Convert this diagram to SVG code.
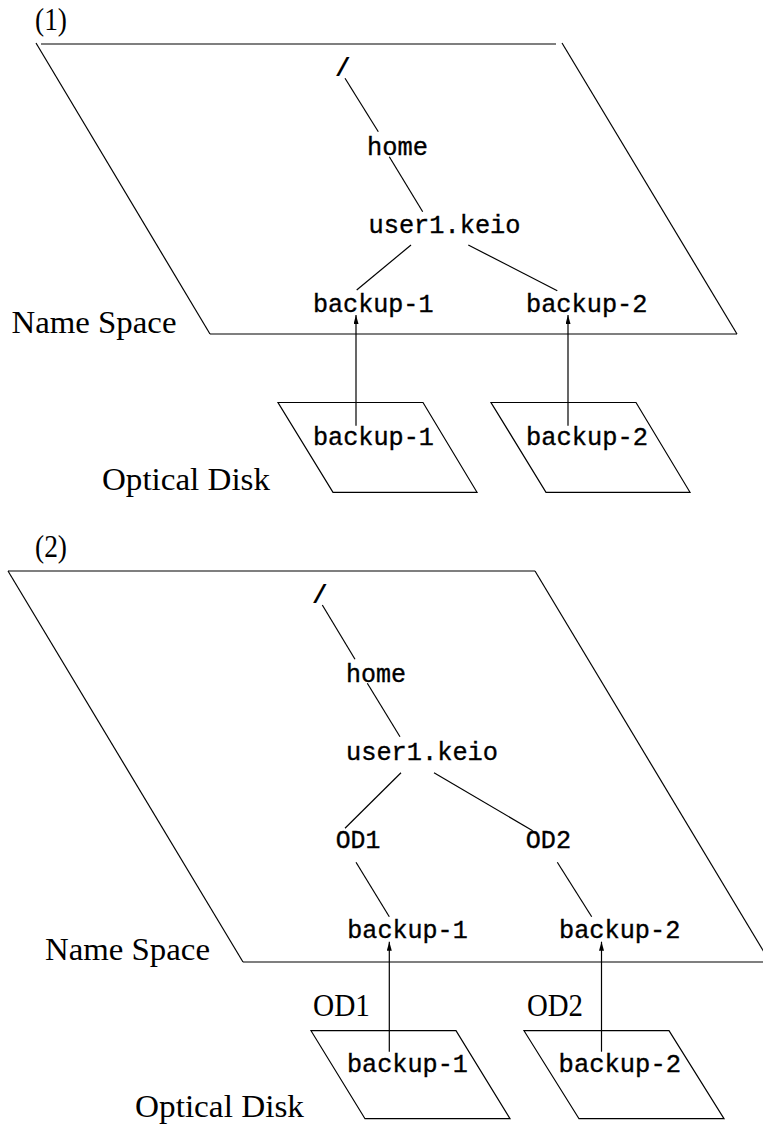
<svg xmlns="http://www.w3.org/2000/svg" width="763" height="1126" viewBox="0 0 763 1126">
<style>
.ln{stroke:#000;stroke-width:1.2;fill:none}
.bx{stroke:#000;stroke-width:1.2;fill:none;stroke-linejoin:miter}
.tt{font-family:"Liberation Mono","DejaVu Sans Mono",monospace;font-size:25.5px;fill:#000;stroke:#000;stroke-width:0.35}
.sl{font-family:"Liberation Mono","DejaVu Sans Mono",monospace;font-size:26px;font-weight:bold;fill:#000}
.rm{font-family:"Liberation Serif","DejaVu Serif",serif;font-size:32px;fill:#000}
</style>
<defs>
<marker id="ah" markerUnits="userSpaceOnUse" markerWidth="10" markerHeight="6" refX="9" refY="2.5" orient="auto">
<path d="M0,0 L9,2.5 L0,5 z" fill="#000"/>
</marker>
</defs>
<rect width="763" height="1126" fill="#fff"/>

<!-- Panel 1 -->
<g id="label1"><text class="rm" x="35" y="29.5" textLength="32" lengthAdjust="spacingAndGlyphs">(1)</text></g>
<g id="namespace1">
<line class="ln" x1="41" y1="44" x2="556" y2="44"/>
<line class="ln" x1="36" y1="43" x2="210" y2="334"/>
<line class="ln" x1="210" y1="334" x2="737" y2="334"/>
<line class="ln" x1="562" y1="43" x2="737" y2="334"/>
<text class="rm" x="11.5" y="333.3" textLength="165" lengthAdjust="spacingAndGlyphs">Name Space</text>
</g>
<g id="p1-root"><text class="sl" x="335" y="76">/</text></g>
<g id="p1-home"><text class="tt" x="367" y="155" textLength="61" lengthAdjust="spacingAndGlyphs">home</text></g>
<g id="p1-user"><text class="tt" x="368.5" y="233" textLength="152" lengthAdjust="spacingAndGlyphs">user1.keio</text></g>
<g id="p1-b1"><text class="tt" x="313" y="311.5" textLength="120.5" lengthAdjust="spacingAndGlyphs">backup-1</text></g>
<g id="p1-b2"><text class="tt" x="526" y="311.5" textLength="121.5" lengthAdjust="spacingAndGlyphs">backup-2</text></g>
<g id="p1-od1">
<polygon class="bx" points="278,402.5 423,402.5 477,492.3 333,492.3"/>
<text class="tt" x="313" y="444.5" textLength="121" lengthAdjust="spacingAndGlyphs">backup-1</text>
</g>
<g id="p1-od2">
<polygon class="bx" points="491,402.5 636,402.5 690,492.3 546,492.3"/>
<text class="tt" x="526" y="444.5" textLength="122" lengthAdjust="spacingAndGlyphs">backup-2</text>
</g>
<g id="p1-oddisk"><text class="rm" x="102" y="490" textLength="168" lengthAdjust="spacingAndGlyphs">Optical Disk</text></g>

<!-- Panel 2 -->
<g id="label2"><text class="rm" x="35" y="557" textLength="32" lengthAdjust="spacingAndGlyphs">(2)</text></g>
<g id="namespace2">
<line class="ln" x1="8" y1="571" x2="535" y2="571"/>
<line class="ln" x1="8" y1="571" x2="243" y2="962"/>
<line class="ln" x1="243" y1="962" x2="763" y2="962"/>
<line class="ln" x1="535" y1="571" x2="770" y2="962"/>
<text class="rm" x="45" y="960" textLength="165" lengthAdjust="spacingAndGlyphs">Name Space</text>
</g>
<g id="p2-root"><text class="sl" x="312" y="603">/</text></g>
<g id="p2-home"><text class="tt" x="346" y="681.7" textLength="60" lengthAdjust="spacingAndGlyphs">home</text></g>
<g id="p2-user"><text class="tt" x="346" y="760" textLength="152" lengthAdjust="spacingAndGlyphs">user1.keio</text></g>
<g id="p2-od1n"><text class="tt" x="335.7" y="848.3" textLength="44.6" lengthAdjust="spacingAndGlyphs">OD1</text></g>
<g id="p2-od2n"><text class="tt" x="525.7" y="848.3" textLength="45.3" lengthAdjust="spacingAndGlyphs">OD2</text></g>
<g id="p2-b1"><text class="tt" x="347.3" y="938.3" textLength="120.4" lengthAdjust="spacingAndGlyphs">backup-1</text></g>
<g id="p2-b2"><text class="tt" x="559" y="938.3" textLength="121.3" lengthAdjust="spacingAndGlyphs">backup-2</text></g>
<g id="p2-od1">
<polygon class="bx" points="311,1030.7 456,1030.7 510,1118.7 365,1118.7"/>
<text class="rm" x="313" y="1015.7" textLength="57" lengthAdjust="spacingAndGlyphs">OD1</text>
<text class="tt" x="347" y="1071.7" textLength="121" lengthAdjust="spacingAndGlyphs">backup-1</text>
</g>
<g id="p2-od2">
<polygon class="bx" points="524,1030.7 669,1030.7 724,1118.7 579,1118.7"/>
<text class="rm" x="527" y="1015.7" textLength="56" lengthAdjust="spacingAndGlyphs">OD2</text>
<text class="tt" x="558.6" y="1071.7" textLength="122.4" lengthAdjust="spacingAndGlyphs">backup-2</text>
</g>
<g id="p2-oddisk"><text class="rm" x="135" y="1116.7" textLength="169" lengthAdjust="spacingAndGlyphs">Optical Disk</text></g>

<!-- Connectors -->
<g id="connectors">
<line class="ln" x1="345" y1="78.3" x2="378.3" y2="131.7"/>
<line class="ln" x1="389.3" y1="156.7" x2="422.7" y2="211.7"/>
<line class="ln" x1="411" y1="245" x2="356.7" y2="290"/>
<line class="ln" x1="468.3" y1="245" x2="557.3" y2="290.7"/>
<line class="ln" x1="356" y1="425.7" x2="356" y2="315" marker-end="url(#ah)"/>
<line class="ln" x1="568" y1="425.7" x2="568" y2="315" marker-end="url(#ah)"/>

<line class="ln" x1="322.3" y1="605" x2="355" y2="659.3"/>
<line class="ln" x1="367.3" y1="683.3" x2="400" y2="736.7"/>
<line class="ln" x1="401" y1="772.7" x2="345" y2="828.3"/>
<line class="ln" x1="434" y1="772.7" x2="532.7" y2="830.7"/>
<line class="ln" x1="356" y1="862.3" x2="389.3" y2="916.7"/>
<line class="ln" x1="557.3" y1="862.3" x2="591.7" y2="916.7"/>
<line class="ln" x1="389.3" y1="1051.7" x2="389.3" y2="941.7" marker-end="url(#ah)"/>
<line class="ln" x1="601.5" y1="1051.7" x2="601.5" y2="941.7" marker-end="url(#ah)"/>
</g>
</svg>
